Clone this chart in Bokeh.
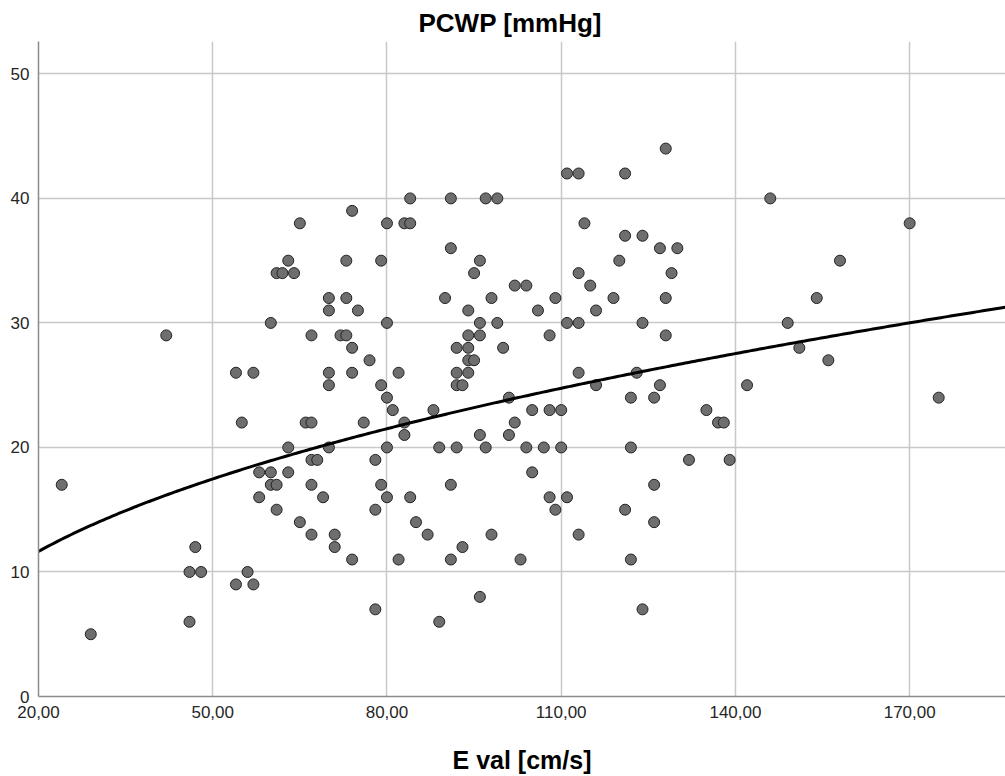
import numpy as np
from bokeh.plotting import figure
from bokeh.models import Range1d, FixedTicker
from bokeh.embed import file_html
from bokeh.resources import INLINE

# ---- data ----
e_val = [
    128,
    111, 113, 121,
    84, 91, 97, 99, 146,
    74,
    65, 80, 83, 84, 114, 170,
    121, 124,
    91, 127, 130,
    63, 73, 79, 96, 120, 158,
    61, 62, 64, 95, 113, 129,
    102, 104, 115,
    70, 73, 90, 98, 109, 119, 128, 154,
    70, 75, 94, 106, 116,
    60, 80, 96, 99, 111, 113, 124, 149,
    42, 67, 72, 73, 94, 96, 108, 128,
    74, 92, 94, 100, 151,
    77, 94, 95, 156,
    54, 57, 70, 74, 82, 92, 94, 113, 123,
    70, 79, 92, 93, 116, 127, 142,
    80, 101, 122, 126, 175,
    81, 88, 105, 108, 110, 135,
    55, 66, 67, 76, 83, 102, 137, 138,
    83, 96, 101,
    63, 70, 80, 89, 92, 97, 104, 107, 110, 122,
    67, 68, 78, 132, 139,
    58, 60, 63, 105,
    24, 60, 61, 67, 79, 91, 126,
    58, 69, 80, 84, 108, 111,
    61, 78, 109, 121,
    65, 85, 126,
    67, 71, 87, 98, 113,
    47, 71, 93,
    74, 82, 91, 103, 122,
    46, 48, 56,
    54, 57,
    96,
    78, 124,
    46, 89,
    29,
]

pcwp = [
    44,
    42, 42, 42,
    40, 40, 40, 40, 40,
    39,
    38, 38, 38, 38, 38, 38,
    37, 37,
    36, 36, 36,
    35, 35, 35, 35, 35, 35,
    34, 34, 34, 34, 34, 34,
    33, 33, 33,
    32, 32, 32, 32, 32, 32, 32, 32,
    31, 31, 31, 31, 31,
    30, 30, 30, 30, 30, 30, 30, 30,
    29, 29, 29, 29, 29, 29, 29, 29,
    28, 28, 28, 28, 28,
    27, 27, 27, 27,
    26, 26, 26, 26, 26, 26, 26, 26, 26,
    25, 25, 25, 25, 25, 25, 25,
    24, 24, 24, 24, 24,
    23, 23, 23, 23, 23, 23,
    22, 22, 22, 22, 22, 22, 22, 22,
    21, 21, 21,
    20, 20, 20, 20, 20, 20, 20, 20, 20, 20,
    19, 19, 19, 19, 19,
    18, 18, 18, 18,
    17, 17, 17, 17, 17, 17, 17,
    16, 16, 16, 16, 16, 16,
    15, 15, 15, 15,
    14, 14, 14,
    13, 13, 13, 13, 13,
    12, 12, 12,
    11, 11, 11, 11, 11,
    10, 10, 10,
    9, 9,
    8,
    7, 7,
    6, 6,
    5,
]

x_ticks = [20, 50, 80, 110, 140, 170]
x_tick_labels = ["20,00", "50,00", "80,00", "110,00", "140,00", "170,00"]
y_ticks = [0, 10, 20, 30, 40, 50]

title_text = "PCWP [mmHg]"
x_title = "E val [cm/s]"

# power-model fit line y = a * x^b (coefficients)
fit_a = 3.10
fit_b = 0.442

X_MIN, X_MAX = 20, 186.5
Y_MIN, Y_MAX = 0, 52.6

fit_x = np.linspace(X_MIN, X_MAX, 300)
fit_y = fit_a * fit_x ** fit_b

FONT = "Liberation Sans"

p = figure(width=1005, height=776,
           x_range=Range1d(X_MIN, X_MAX), y_range=Range1d(Y_MIN, Y_MAX),
           output_backend="svg", toolbar_location=None,
           min_border_left=38, min_border_right=0,
           min_border_top=41, min_border_bottom=79)

p.title.text = title_text
p.title.align = "left"
p.title.offset = 380
p.title.text_font = FONT
p.title.text_font_size = "26px"
p.title.text_font_style = "bold"
p.title.text_color = "#000000"
p.title.standoff = 7

p.outline_line_color = None
p.background_fill_color = "white"
p.border_fill_color = "white"

# axes
p.xaxis.ticker = FixedTicker(ticks=x_ticks)
p.xaxis.major_label_overrides = {t: l for t, l in zip(x_ticks, x_tick_labels)}
p.yaxis.ticker = FixedTicker(ticks=y_ticks)
for ax in (p.xaxis, p.yaxis):
    ax.major_tick_in = 0
    ax.major_tick_out = 0
    ax.minor_tick_in = 0
    ax.minor_tick_out = 0
    ax.axis_line_color = "#8c8c8c"
    ax.axis_line_width = 1.5
    ax.major_label_text_font = FONT
    ax.major_label_text_font_size = "17px"
    ax.major_label_text_color = "#262626"
p.xaxis.major_label_standoff = 9
p.yaxis.major_label_standoff = 9

p.xaxis.axis_label = x_title
p.xaxis.axis_label_text_font = FONT
p.xaxis.axis_label_text_font_size = "25px"
p.xaxis.axis_label_text_font_style = "bold"
p.xaxis.axis_label_text_color = "#000000"
p.xaxis.axis_label_standoff = 25

# grids
p.xgrid.ticker = FixedTicker(ticks=x_ticks)
p.ygrid.ticker = FixedTicker(ticks=y_ticks)
for g in (p.xgrid, p.ygrid):
    g.grid_line_color = "#c8c8c8"
    g.grid_line_width = 1.5

p.scatter(e_val, pcwp, size=11, fill_color="#6e6e6e",
          line_color="#222222", line_width=1)
p.line(fit_x, fit_y, line_color="black", line_width=3)

open("out.html", "w").write(file_html(p, INLINE))
